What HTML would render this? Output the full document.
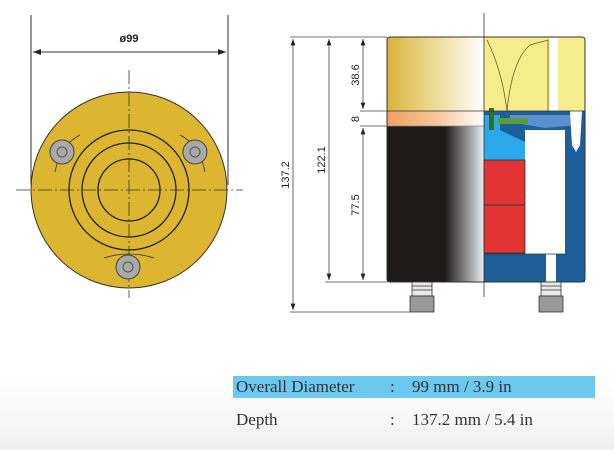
<!DOCTYPE html>
<html><head><meta charset="utf-8"><style>
html,body{margin:0;padding:0;width:614px;height:450px;overflow:hidden;background:linear-gradient(#fff 0,#fff 380px,#f0f0f0 450px);}
svg{position:absolute;left:0;top:0}
.t{position:absolute;font-family:"Liberation Serif",serif;font-size:17px;color:#333;white-space:nowrap}
</style></head><body>
<svg width="614" height="450" viewBox="0 0 614 450">
<defs>
<linearGradient id="gy" x1="0" x2="1"><stop offset="0" stop-color="#d9b43a"/><stop offset="0.45" stop-color="#ecd78e"/><stop offset="1" stop-color="#fff"/></linearGradient>
<linearGradient id="go" x1="0" x2="1"><stop offset="0" stop-color="#f0a060"/><stop offset="0.5" stop-color="#f6c49a"/><stop offset="1" stop-color="#fff"/></linearGradient>
<linearGradient id="gb" x1="0" x2="1"><stop offset="0" stop-color="#1e1a1a"/><stop offset="0.6" stop-color="#1e1a1a"/><stop offset="1" stop-color="#e8eef2"/></linearGradient>
<marker id="a" markerWidth="8" markerHeight="6" refX="8" refY="3" orient="auto-start-reverse"><path d="M0,0L8,3L0,6z" fill="#222"/></marker>
</defs>
<g stroke="#333" stroke-width="1" fill="none">
<line x1="31" y1="15" x2="31" y2="185"/><line x1="228" y1="15" x2="228" y2="185"/>
<line x1="33" y1="52" x2="226" y2="52" marker-start="url(#a)" marker-end="url(#a)"/>
</g>
<text x="129" y="42" font-family="Liberation Sans,sans-serif" font-size="11" font-weight="bold" text-anchor="middle" fill="#222">ø99</text>
<circle cx="129" cy="190" r="98" fill="#dcb630" stroke="#333" stroke-width="1"/>
<g fill="none" stroke="#222" stroke-width="1.3">
<circle cx="129" cy="190" r="60"/><circle cx="129" cy="190" r="47"/><circle cx="129" cy="190" r="31"/>
</g>
<g stroke="#333" stroke-width="0.8" stroke-dasharray="14,3,2,3">
<line x1="16" y1="190" x2="243" y2="190"/><line x1="129" y1="70" x2="129" y2="298"/>
</g>
<g stroke="#333" stroke-width="0.8" fill="none">
<path d="M55,172 Q60,145 80,135"/><path d="M180,135 Q200,145 205,172"/><path d="M104,258 Q129,250 154,258"/>
</g>
<g fill="#a9a9a9" stroke="#444" stroke-width="1">
<circle cx="62" cy="152" r="12"/><circle cx="195" cy="152" r="12"/><circle cx="128" cy="267" r="12"/>
</g>
<g fill="none" stroke="#555"><circle cx="62" cy="152" r="5"/><circle cx="195" cy="152" r="5"/><circle cx="128" cy="267" r="5"/></g>
<rect x="387" y="37" width="97" height="74" fill="url(#gy)"/>
<rect x="387" y="111" width="97" height="15" fill="url(#go)"/>
<rect x="387" y="126" width="97" height="156" fill="url(#gb)"/>
<rect x="484" y="37" width="101" height="74" fill="#f5ec8c"/>
<g fill="none" stroke="#6a5a20" stroke-width="0.8">
<path d="M487,40 Q502,70 507,111"/><path d="M507,111 Q512,60 530,45 L548,40 L548,111"/>
</g>
<rect x="550" y="38" width="8" height="73" fill="#fff"/>
<rect x="484" y="111" width="101" height="171" fill="#1e5f9a"/>
<path d="M510,115 L570,115 L578,125 L545,128 L510,122Z" fill="#5a8fd0"/>
<path d="M484,115 L500,115 L500,130 L525,142 L525,160 L484,160Z" fill="#2aa8e8"/>
<rect x="498" y="118" width="30" height="6" fill="#5a9a3a"/>
<rect x="489" y="108" width="5" height="22" fill="#3a6a20"/>
<rect x="525" y="130" width="40" height="124" fill="#fff"/>
<rect x="484" y="160" width="41" height="93" fill="#e23434" stroke="#333" stroke-width="0.8"/>
<line x1="484" y1="205" x2="525" y2="205" stroke="#333"/>
<rect x="546" y="254" width="10" height="28" fill="#fff"/>
<path d="M570,111 L572,145 L576,152 L580,145 L582,111Z" fill="#fff"/>
<line x1="484" y1="254" x2="565" y2="254" stroke="#333" stroke-width="0.8"/>
<rect x="387" y="37" width="198" height="245" rx="3" fill="none" stroke="#333" stroke-width="1"/>
<line x1="387" y1="111" x2="585" y2="111" stroke="#333" stroke-width="0.7"/>
<line x1="387" y1="126" x2="484" y2="126" stroke="#888" stroke-width="0.7"/>
<line x1="484" y1="13" x2="484" y2="297" stroke="#333" stroke-width="0.8"/>
<g stroke="#333" stroke-width="0.8">
<rect x="412" y="282" width="20" height="14" fill="#e8e8e8"/><rect x="410" y="296" width="24" height="16" fill="#999"/>
<rect x="541" y="282" width="20" height="14" fill="#e8e8e8"/><rect x="539" y="296" width="24" height="16" fill="#999"/>
<line x1="412" y1="286" x2="432" y2="286"/><line x1="412" y1="290" x2="432" y2="290"/>
<line x1="541" y1="286" x2="561" y2="286"/><line x1="541" y1="290" x2="561" y2="290"/>
</g>
<g stroke="#444" stroke-width="0.8" fill="none">
<line x1="290" y1="37" x2="387" y2="37"/><line x1="325" y1="282" x2="387" y2="282"/><line x1="290" y1="312" x2="410" y2="312"/>
<line x1="360" y1="111" x2="387" y2="111"/><line x1="360" y1="126" x2="387" y2="126"/>
<line x1="293" y1="39" x2="293" y2="310" marker-start="url(#a)" marker-end="url(#a)"/>
<line x1="329" y1="39" x2="329" y2="280" marker-start="url(#a)" marker-end="url(#a)"/>
<line x1="363" y1="39" x2="363" y2="109" marker-start="url(#a)" marker-end="url(#a)"/>
<line x1="363" y1="128" x2="363" y2="280" marker-start="url(#a)" marker-end="url(#a)"/>
</g>
<g font-family="Liberation Sans,sans-serif" font-size="11" fill="#222" text-anchor="middle">
<text transform="translate(289,175) rotate(-90)">137.2</text>
<text transform="translate(325,160) rotate(-90)">122.1</text>
<text transform="translate(359,75) rotate(-90)">38.6</text>
<text transform="translate(359,119) rotate(-90)">8</text>
<text transform="translate(359,205) rotate(-90)">77.5</text>
</g>
<rect x="233" y="376" width="362" height="22" fill="#6cc8ee"/>
</svg>
<div class="t" style="left:236px;top:377px">Overall Diameter</div>
<div class="t" style="left:390px;top:377px">:</div>
<div class="t" style="left:412px;top:377px">99 mm / 3.9 in</div>
<div class="t" style="left:236px;top:410px">Depth</div>
<div class="t" style="left:390px;top:410px">:</div>
<div class="t" style="left:412px;top:410px">137.2 mm / 5.4 in</div>
</body></html>
